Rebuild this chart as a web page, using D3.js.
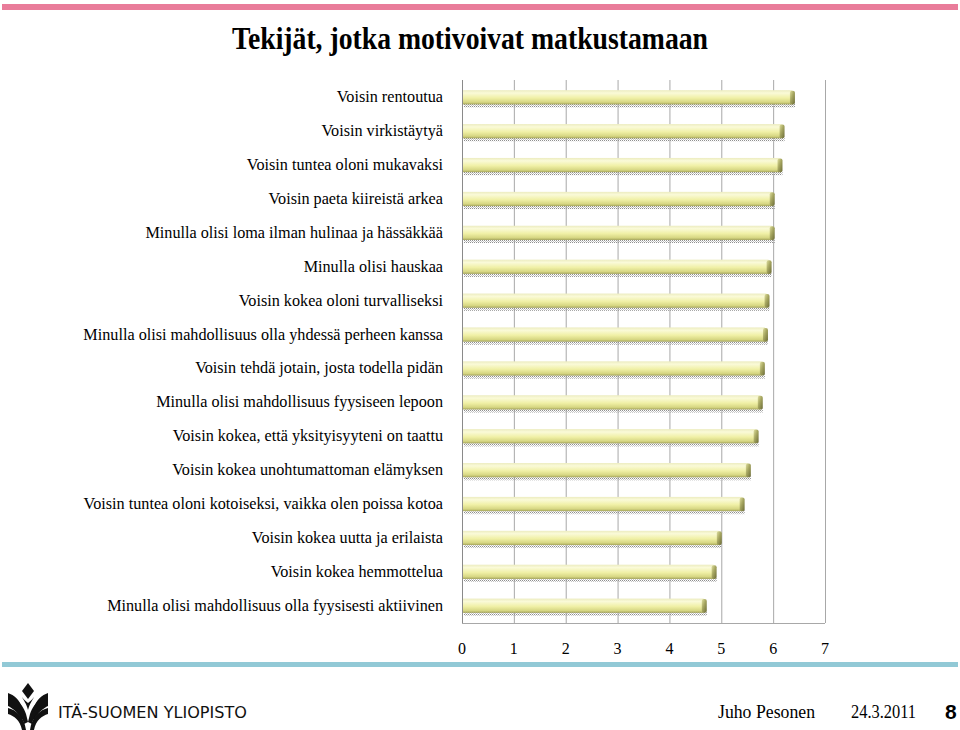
<!DOCTYPE html>
<html><head><meta charset="utf-8">
<script src="https://cdn.jsdelivr.net/npm/d3@7"></script>
<style>body{margin:0;background:#fff;} svg{display:block;}</style>
</head><body>
<script>
const categories = [
  "Voisin rentoutua",
  "Voisin virkistäytyä",
  "Voisin tuntea oloni mukavaksi",
  "Voisin paeta kiireistä arkea",
  "Minulla olisi loma ilman hulinaa ja hässäkkää",
  "Minulla olisi hauskaa",
  "Voisin kokea oloni turvalliseksi",
  "Minulla olisi mahdollisuus olla yhdessä perheen kanssa",
  "Voisin tehdä jotain, josta todella pidän",
  "Minulla olisi mahdollisuus fyysiseen lepoon",
  "Voisin kokea, että yksityisyyteni on taattu",
  "Voisin kokea unohtumattoman elämyksen",
  "Voisin tuntea oloni kotoiseksi, vaikka olen poissa kotoa",
  "Voisin kokea uutta ja erilaista",
  "Voisin kokea hemmottelua",
  "Minulla olisi mahdollisuus olla fyysisesti aktiivinen"
];
const values = [6.42, 6.22, 6.18, 6.03, 6.03, 5.97, 5.93, 5.90, 5.84, 5.80, 5.72, 5.57, 5.45, 5.01, 4.91, 4.72];
const ticks = [0, 1, 2, 3, 4, 5, 6, 7];
const title = "Tekijät, jotka motivoivat matkustamaan";

const W = 960, H = 730;
const svg = d3.select("body").append("svg").attr("width", W).attr("height", H);

svg.append("rect").attr("x", 2).attr("y", 4).attr("width", 956).attr("height", 6).attr("fill", "#e97c9a");
svg.append("rect").attr("x", 2).attr("y", 662).attr("width", 956).attr("height", 5).attr("fill", "#92c9d6");

svg.append("text").attr("x", 470).attr("y", 49).attr("text-anchor", "middle")
  .attr("font-family", "'Liberation Serif', serif").attr("font-weight", "bold")
  .attr("font-size", 31).attr("textLength", 476).attr("lengthAdjust", "spacingAndGlyphs")
  .text(title);

const x = d3.scaleLinear().domain([0, 7]).range([462, 825]);
const y = d3.scaleBand().domain(categories).range([80, 623]).paddingInner(0.58).paddingOuter(0.3);

const defs = svg.append("defs");
const grad = defs.append("linearGradient").attr("id", "barGrad").attr("x1", 0).attr("y1", 0).attr("x2", 0).attr("y2", 1);
grad.append("stop").attr("offset", "0%").attr("stop-color", "#ececc0");
grad.append("stop").attr("offset", "20%").attr("stop-color", "#fafad8");
grad.append("stop").attr("offset", "55%").attr("stop-color", "#f0f0a6");
grad.append("stop").attr("offset", "85%").attr("stop-color", "#d6d682");
grad.append("stop").attr("offset", "100%").attr("stop-color", "#a4a45c");
const capGrad = defs.append("linearGradient").attr("id", "capGrad").attr("x1", 0).attr("y1", 0).attr("x2", 1).attr("y2", 1);
capGrad.append("stop").attr("offset", "0%").attr("stop-color", "#e0e0a0");
capGrad.append("stop").attr("offset", "45%").attr("stop-color", "#a6a660");
capGrad.append("stop").attr("offset", "100%").attr("stop-color", "#6a6a36");
const pat = defs.append("pattern").attr("id", "dots").attr("width", 2).attr("height", 2).attr("patternUnits", "userSpaceOnUse");
pat.append("rect").attr("width", 1).attr("height", 1).attr("fill", "#8e8e8e");
pat.append("rect").attr("x", 1).attr("y", 1).attr("width", 1).attr("height", 1).attr("fill", "#c4c4c4");

svg.append("g").selectAll("line").data(ticks).join("line")
  .attr("x1", d => x(d) + 0.5).attr("x2", d => x(d) + 0.5).attr("y1", 80).attr("y2", 623)
  .attr("stroke", d => d === 0 ? "#8a8a8a" : "#a8a8a8").attr("stroke-width", 1);
svg.append("line").attr("x1", 462).attr("x2", 825).attr("y1", 623.5).attr("y2", 623.5).attr("stroke", "#a8a8a8");

svg.append("g").selectAll("text").data(ticks).join("text")
  .attr("x", d => x(d)).attr("y", 654).attr("text-anchor", "middle")
  .attr("font-family", "'Liberation Serif', serif").attr("font-size", 16).attr("fill", "#000")
  .text(d => d);

svg.append("g").selectAll("text").data(categories).join("text")
  .attr("x", 443).attr("y", d => y(d) + y.bandwidth() / 2 + 5).attr("text-anchor", "end")
  .attr("font-family", "'Liberation Serif', serif").attr("font-size", 16.2).attr("fill", "#000")
  .text(d => d);

const bars = svg.append("g").selectAll("g").data(categories).join("g");
bars.append("rect")
  .attr("x", x(0) + 2).attr("y", d => y(d) + y.bandwidth() - 1)
  .attr("width", (d, i) => x(values[i]) - x(0) - 2).attr("height", 4)
  .attr("fill", "url(#dots)");
bars.append("rect")
  .attr("x", x(0) + 1).attr("y", d => y(d))
  .attr("width", (d, i) => x(values[i]) - x(0) - 4).attr("height", y.bandwidth())
  .attr("fill", "url(#barGrad)");
bars.append("rect")
  .attr("x", (d, i) => x(values[i]) - 5).attr("y", d => y(d) + 0.5)
  .attr("width", 5).attr("height", y.bandwidth() - 0.5).attr("rx", 2)
  .attr("fill", "url(#capGrad)");

const logo = svg.append("g").attr("fill", "#111");
logo.append("path").attr("d", "M28,683 L34,691 L28,699 L22,691 Z");
logo.append("path").attr("d", "M8,693 C14,695 20,700 22,708 L26,716 L22,720 C18,712 12,708 8,706 Z");
logo.append("path").attr("d", "M48,693 C42,695 36,700 34,708 L30,716 L34,720 C38,712 44,708 48,706 Z");
logo.append("path").attr("d", "M16,700 C20,702 24,708 26,714 L28,722 L24,724 C22,716 20,712 16,710 Z");
logo.append("path").attr("d", "M40,700 C36,702 32,708 30,714 L28,722 L32,724 C34,716 36,712 40,710 Z");
logo.append("path").attr("d", "M8,708 C16,710 24,716 26,730 L22,730 C20,720 14,716 8,714 Z");
logo.append("path").attr("d", "M48,708 C40,710 32,716 30,730 L34,730 C36,720 42,716 48,714 Z");
logo.append("path").attr("d", "M22,697 C24,701 26,703 28,710 C30,703 32,701 34,697 C32,700 30,701 28,703 C26,701 24,700 22,697 Z");

svg.append("text").attr("x", 58).attr("y", 718)
  .attr("font-family", "'DejaVu Sans', sans-serif").attr("font-size", 15).attr("fill", "#111")
  .attr("textLength", 189).attr("lengthAdjust", "spacingAndGlyphs")
  .text("ITÄ-SUOMEN YLIOPISTO");

svg.append("text").attr("x", 718).attr("y", 718)
  .attr("font-family", "'Liberation Serif', serif").attr("font-size", 18).attr("fill", "#000")
  .attr("textLength", 97).attr("lengthAdjust", "spacingAndGlyphs")
  .text("Juho Pesonen");
svg.append("text").attr("x", 851).attr("y", 718)
  .attr("font-family", "'Liberation Serif', serif").attr("font-size", 18).attr("fill", "#000")
  .attr("textLength", 65).attr("lengthAdjust", "spacingAndGlyphs")
  .text("24.3.2011");
svg.append("text").attr("x", 945).attr("y", 719)
  .attr("font-family", "'Liberation Sans', sans-serif").attr("font-weight", "bold").attr("font-size", 21).attr("fill", "#000")
  .text("8");
</script>
</body></html>
